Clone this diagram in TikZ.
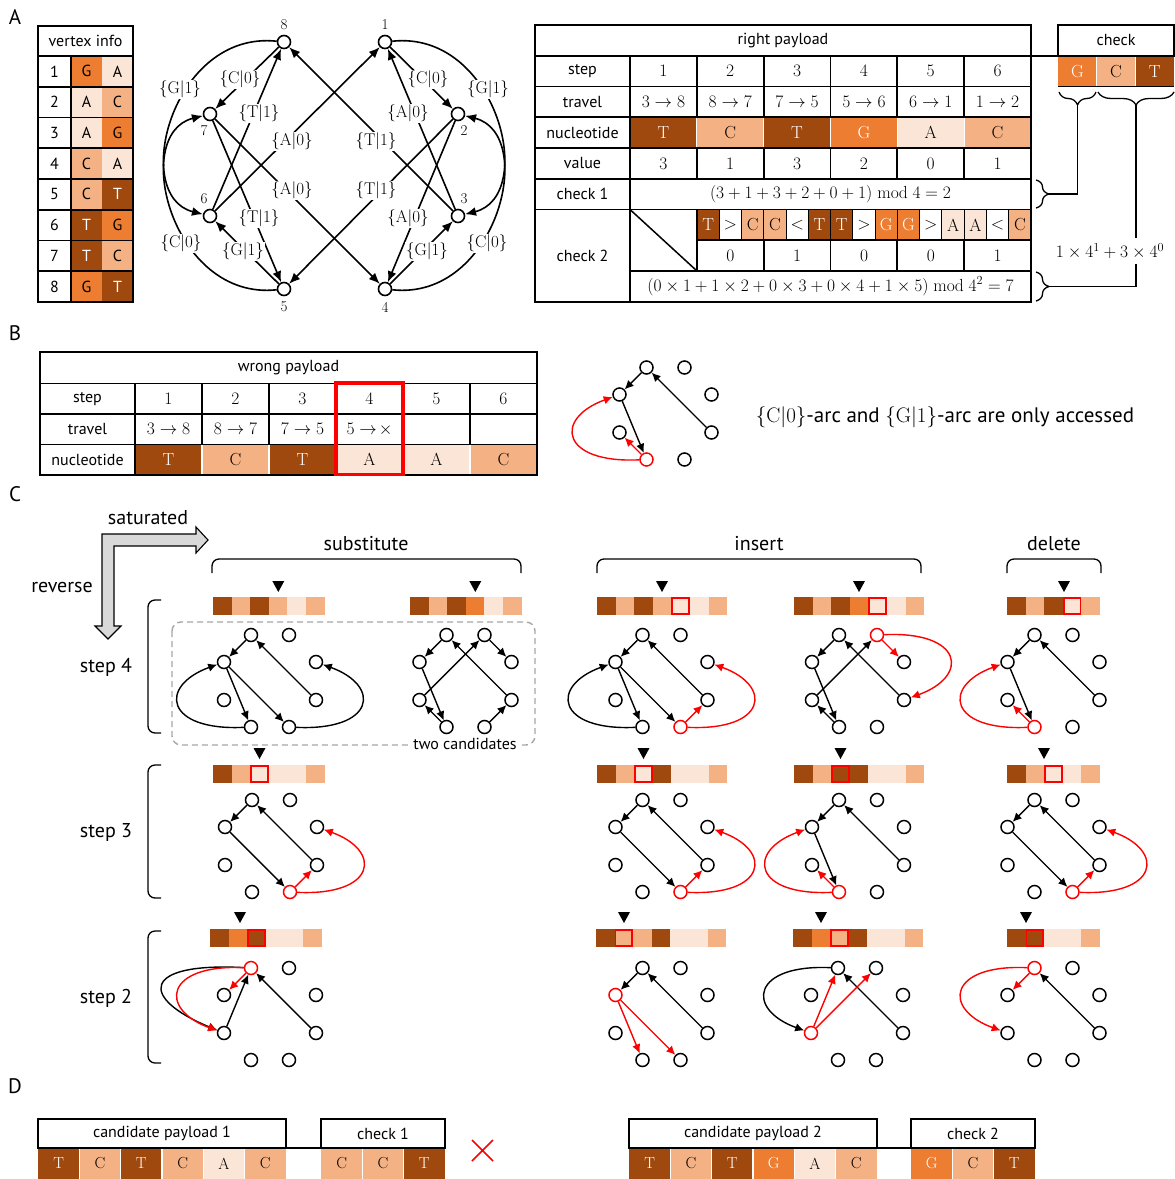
\RequirePackage{fix-cm}
\documentclass[tikz,border=0pt]{standalone}
\usepackage{fontspec}
\setsansfont{PT Sans}
\usetikzlibrary{arrows.meta,decorations.pathreplacing,calc}
\definecolor{cT}{HTML}{A0490F}
\definecolor{cG}{HTML}{ED7D31}
\definecolor{cC}{HTML}{F4B183}
\definecolor{cA}{HTML}{FBE5D6}
\definecolor{cW}{HTML}{FFFFFF}
\colorlet{tT}{white}\colorlet{tG}{black}\colorlet{tC}{black}\colorlet{tA}{black}
\colorlet{uT}{white}\colorlet{uG}{white}\colorlet{uC}{black}\colorlet{uA}{black}\colorlet{uW}{black}
\definecolor{dgrey}{HTML}{A6A6A6}
\definecolor{agrey}{HTML}{D9D9D9}
\newcommand\fsz[1]{\fontsize{#1}{#1}\selectfont}
\newcommand\arcl[2]{$\{\mathrm{#1}|#2\}$}
\tikzset{
  tbl/.style={line width=1.8pt},
  conn/.style={line width=1.3pt},
  lbl/.style={font=\sffamily\fsz{16}, inner sep=0pt},
  big/.style={font=\sffamily\fsz{20}, inner sep=0pt},
  val/.style={font=\rmfamily\fsz{17.5}, inner sep=0pt},
  bigvtx/.style={circle, draw, line width=1.6pt, minimum size=13pt, inner sep=0pt, fill=white},
  svtx/.style={circle, draw, line width=1.5pt, minimum size=13pt, inner sep=0pt, fill=white},
  arr/.style={line width=1.6pt, -{Latex[length=11pt,width=9pt]}},
  sarr/.style={line width=1.4pt, -{Latex[length=9pt,width=8.5pt]}},
  elab/.style={font=\rmfamily\fsz{17}, fill=white, inner sep=1pt},
  panel/.style={font=\sffamily\fsz{21}, inner sep=0pt},
  brc/.style={line width=1.3pt, decorate, decoration={brace, amplitude=13pt}},
}
% small graph: prefix, cx, cy, red vertex
\newcommand\sgraph[4]{%
  \foreach \id/\dx/\dy in {8/-19/-46,1/19/-46,7/-46/-19,2/46/-19,6/-46/19,3/46/19,5/-19/46,4/19/46}{%
    \ifnum\id=#4\relax
      \node[svtx,draw=red] (#1-\id) at ({#2+\dx},{#3+\dy}) {};%
    \else
      \node[svtx] (#1-\id) at ({#2+\dx},{#3+\dy}) {};%
    \fi
  }}
\newcommand\ed[4][]{\draw[sarr,#1] (#2-#3) -- (#2-#4);}
\newcommand\curveFS[2][]{\draw[sarr,#1] (#2-5) .. controls +(-86,4) and +(-66,24) .. (#2-7);}
\newcommand\curveFT[2][]{\draw[sarr,#1] (#2-4) .. controls +(86,4) and +(66,24) .. (#2-2);}
\newcommand\curveOT[2][]{\draw[sarr,#1] (#2-1) .. controls +(86,-4) and +(66,-24) .. (#2-3);}
\newcommand\curveES[2][]{\draw[sarr,#1] (#2-8) .. controls +(-86,-4) and +(-66,-24) .. (#2-6);}
% strip: x0, ytop, letters, red index
\newcommand\strip[4]{%
  \foreach \L [count=\k] in {#3}{%
    \fill[fill=c\L] ({#1+(\k-1)*18.6},#2) rectangle ({#1+\k*18.6},#2+18);}
  \ifnum#4>0\relax
    \draw[red, line width=1.7pt] ({#1+(#4-1)*18.6+0.9},#2+0.9) rectangle ({#1+#4*18.6-0.9},#2+17.1);
  \fi}
\newcommand\tmark[2]{\fill (#1-6,#2) -- (#1+6,#2) -- (#1,#2+11) -- cycle;}
\begin{document}
\begin{tikzpicture}[x=1pt,y=-1pt]
\useasboundingbox (0,0) rectangle (1175,1179);
% panel labels
\node[panel] (pA) at (15,17) {A};
\node[panel] (pB) at (15,333) {B};
\node[panel] (pC) at (15,494) {C};
\node[panel] (pD) at (15,1086) {D};

% ===== vertex info table
\node[lbl] (vi-h) at (85.5,41) {vertex info};
\foreach \r/\a/\b in {1/G/A,2/A/C,3/A/G,4/C/A,5/C/T,6/T/G,7/T/C,8/G/T}{
  \pgfmathsetmacro\yt{56+(\r-1)*30.75}
  \pgfmathsetmacro\yc{\yt+15.375}
  \fill[fill=c\a] (71,\yt) rectangle (102,\yt+30.75);
  \fill[fill=c\b] (102,\yt) rectangle (133,\yt+30.75);
  \node[lbl] (vi-n\r) at (54.5,\yc) {\r};
  \node[lbl,text=t\a] (vi-a\r) at (86.5,\yc) {\a};
  \node[lbl,text=t\b] (vi-b\r) at (117.5,\yc) {\b};
  \draw[tbl] (38,\yt) -- (133,\yt);
}
\draw[tbl] (38,26) rectangle (133,302);
\draw[tbl] (71,56) -- (71,302);

% ===== graph A
\node[bigvtx] (a8) at (284,42) {};
\node[bigvtx] (a1) at (385,42) {};
\node[bigvtx] (a7) at (210,114) {};
\node[bigvtx] (a2) at (458,114) {};
\node[bigvtx] (a6) at (210,216) {};
\node[bigvtx] (a3) at (458,216) {};
\node[bigvtx] (a5) at (284,289) {};
\node[bigvtx] (a4) at (385,289) {};
\node[val,font=\rmfamily\fsz{15}] (al8) at (284,25) {8};
\node[val,font=\rmfamily\fsz{15}] (al1) at (385,25) {1};
\node[val,font=\rmfamily\fsz{15}] (al7) at (204,131) {7};
\node[val,font=\rmfamily\fsz{15}] (al2) at (464,131) {2};
\node[val,font=\rmfamily\fsz{15}] (al6) at (204,199) {6};
\node[val,font=\rmfamily\fsz{15}] (al3) at (464,199) {3};
\node[val,font=\rmfamily\fsz{15}] (al5) at (284,307) {5};
\node[val,font=\rmfamily\fsz{15}] (al4) at (385,307) {4};
\draw[arr] (a8) -- (a7);
\draw[arr] (a6) -- (a8);
\draw[arr] (a3) -- (a8);
\draw[arr] (a7) -- (a4);
\draw[arr] (a7) -- (a5);
\draw[arr] (a6) -- (a1);
\draw[arr] (a5) -- (a6);
\draw[arr] (a2) -- (a5);
\draw[arr] (a1) -- (a2);
\draw[arr] (a3) -- (a1);
\draw[arr] (a2) -- (a4);
\draw[arr] (a4) -- (a3);
\draw[arr] (a8) .. controls +(-112,-12) and +(-80,-20) .. (a6);
\draw[arr] (a5) .. controls +(-112,12) and +(-80,20) .. (a7);
\draw[arr] (a1) .. controls +(112,-12) and +(80,-20) .. (a3);
\draw[arr] (a4) .. controls +(112,12) and +(80,20) .. (a2);
\node[elab] (e1) at (180,89) {\arcl{G}{1}};
\node[elab] (e2) at (240,79) {\arcl{C}{0}};
\node[elab] (e3) at (259,113) {\arcl{T}{1}};
\node[elab] (e4) at (292,141) {\arcl{A}{0}};
\node[elab] (e5) at (292,190) {\arcl{A}{0}};
\node[elab] (e6) at (259,218) {\arcl{T}{1}};
\node[elab] (e7) at (243,251) {\arcl{G}{1}};
\node[elab] (e8) at (181,243) {\arcl{C}{0}};
\node[elab] (e9) at (488,89) {\arcl{G}{1}};
\node[elab] (e10) at (428,79) {\arcl{C}{0}};
\node[elab] (e11) at (408,113) {\arcl{A}{0}};
\node[elab] (e12) at (376,141) {\arcl{T}{1}};
\node[elab] (e13) at (376,190) {\arcl{T}{1}};
\node[elab] (e14) at (408,218) {\arcl{A}{0}};
\node[elab] (e15) at (427,251) {\arcl{G}{1}};
\node[elab] (e16) at (487,243) {\arcl{C}{0}};

% ===== right payload table
\def\rx{630}\def\cw{66.833}\def\lw{22.267}
\node[lbl] (rp-h) at (783,40.4) {right payload};
\foreach \n/\y [count=\i] in {step/71.1, travel/101.9, nucleotide/132.6, value/163.4, check 1/194.1, check 2/255.6}
  \node[lbl] (rp-r\i) at (582.5,\y) {\n};
\foreach \k in {1,...,6}
  \node[val] (rp-s\k) at ({\rx+(\k-0.5)*\cw},71.1) {\k};
\foreach \a/\b [count=\k] in {3/8,8/7,7/5,5/6,6/1,1/2}
  \node[val] (rp-t\k) at ({\rx+(\k-0.5)*\cw},101.9) {$\a\rightarrow\b$};
\foreach \L [count=\k] in {T,C,T,G,A,C}{
  \fill[fill=c\L] ({\rx+(\k-1)*\cw},117.25) rectangle ({\rx+\k*\cw},148);
  \node[val,text=u\L] (rp-n\k) at ({\rx+(\k-0.5)*\cw},132.6) {\L};
}
\foreach \v [count=\k] in {3,1,3,2,0,1}
  \node[val] (rp-v\k) at ({\rx+(\k-0.5)*\cw},163.4) {\v};
\node[val] (rp-c1) at (830.5,194.1) {$(3+1+3+2+0+1)\bmod 4=2$};
\foreach \c/\tx [count=\k] in {T/T,W/{$>$},C/C,C/C,W/{$<$},T/T,T/T,W/{$>$},G/G,G/G,W/{$>$},A/A,A/A,W/{$<$},C/C}{
  \fill[fill=c\c] ({697+(\k-1)*\lw},209.5) rectangle ({697+\k*\lw},240.25);
  \node[val,text=u\c] (rp-l\k) at ({697+(\k-0.5)*\lw},224.9) {\tx};
}
\foreach \k in {1,...,14}
  \draw[line width=0.9pt] ({697+\k*\lw},209.5) -- ({697+\k*\lw},240.25);
\foreach \v [count=\k] in {0,1,0,0,1}
  \node[val] (rp-b\k) at ({697+(\k-0.5)*\cw},255.6) {\v};
\node[val] (rp-c2) at (830.5,286.4) {$(0\times1+1\times2+0\times3+0\times4+1\times5)\bmod 4^2=7$};
\foreach \k in {1,...,5}
  \draw[white, line width=1.2pt] ({\rx+\k*\cw},117.25) -- ({\rx+\k*\cw},148);
\draw[tbl] (535,25) rectangle (1031,301.75);
\foreach \y in {55.75,86.5,117.25,148,178.75,209.5} \draw[tbl] (535,\y) -- (1031,\y);
\draw[tbl] (697,240.25) -- (1031,240.25);
\draw[tbl] (630,271) -- (1031,271);
\draw[tbl] (630,55.75) -- (630,301.75);
\foreach \k in {1,...,5}{
  \draw[tbl] ({\rx+\k*\cw},55.75) -- ({\rx+\k*\cw},117.25);
  \draw[tbl] ({\rx+\k*\cw},148) -- ({\rx+\k*\cw},178.75);
  \draw[tbl] ({\rx+\k*\cw},240.25) -- ({\rx+\k*\cw},271);
}
\draw[tbl] (697,209.5) -- (697,240.25);
\draw[line width=1.5pt] (630,209.5) -- (697,271);

% ===== check box
\node[lbl] (ck-h) at (1116,40.4) {check};
\foreach \L [count=\k] in {G,C,T}{
  \fill[fill=c\L] ({1058+(\k-1)*38.7},55.75) rectangle ({1058+\k*38.7},86.5);
  \node[val,text=u\L] (ck-\k) at ({1058+(\k-0.5)*38.7},71.1) {\L};
}
\draw[white, line width=1.2pt] (1096.7,55.75) -- (1096.7,86.5) (1135.4,55.75) -- (1135.4,86.5);
\draw[tbl] (1058,25) rectangle (1174.2,55.75);
\draw[tbl] (1031,55.75) -- (1058,55.75);
\draw[tbl] (1058,86.5) -- (1174.2,86.5);
\draw[brc] (1096,92) -- (1059,92);
\draw[brc] (1174,92) -- (1098,92);
\draw[brc] (1036,180) -- (1036,208);
\draw[brc] (1036,272) -- (1036,301);
\coordinate (tb1) at (1077.5,105);
\coordinate (tr1) at (1049,194);
\coordinate (tb2) at (1136,105);
\coordinate (tr2) at (1049,286.5);
\node[val, inner sep=5pt] (fx) at (1110,251) {$1\times4^1+3\times4^0$};
\draw[conn] (tb1) -- (tb1 |- tr1) -- (tr1);
\draw[conn] (tb2) -- (tb2 |- fx.north);
\draw[conn] (tb2 |- fx.south) -- (tb2 |- tr2) -- (tr2);

% ===== B: wrong payload
\node[lbl] (wp-h) at (288.5,368) {wrong payload};
\foreach \n/\y [count=\i] in {step/399, travel/429.3, nucleotide/459.8}
  \node[lbl] (wp-r\i) at (87.5,\y) {\n};
\foreach \k in {1,...,6}
  \node[val] (wp-s\k) at ({135+(\k-0.5)*67},399) {\k};
\foreach \a/\b [count=\k] in {3/8,8/7,7/5}
  \node[val] (wp-t\k) at ({135+(\k-0.5)*67},429.3) {$\a\rightarrow\b$};
\node[val] (wp-t4) at ({135+3.5*67},429.3) {$5\rightarrow\!\times$};
\foreach \L [count=\k] in {T,C,T,A,A,C}{
  \fill[fill=c\L] ({135+(\k-1)*67},444.5) rectangle ({135+\k*67},475);
  \node[val,text=u\L] (wp-n\k) at ({135+(\k-0.5)*67},459.8) {\L};
}
\foreach \k in {1,...,5}
  \draw[white, line width=1.2pt] ({135+\k*67},444.5) -- ({135+\k*67},475);
\draw[tbl] (40,352) rectangle (537,475);
\foreach \y in {383.5,414,444.5} \draw[tbl] (40,\y) -- (537,\y);
\draw[tbl] (135,383.5) -- (135,475);
\foreach \k in {1,...,5} \draw[tbl] ({135+\k*67},383.5) -- ({135+\k*67},444.5);
\draw[red, line width=3.6pt] (336,383) rectangle (403,474.5);

\sgraph{gb}{665.5}{413.5}{5}
\ed{gb}{3}{8} \ed{gb}{8}{7} \ed{gb}{7}{5} \ed[red]{gb}{5}{6} \curveFS[red]{gb}
\node[font=\sffamily\fsz{21}, inner sep=0pt] (btxt) at (945,417) {{\rmfamily\arcl{C}{0}}-arc and {\rmfamily\arcl{G}{1}}-arc are only accessed};

% ===== C: headers
\draw[line width=1.1pt, fill=agrey] (102,534) -- (196,534) -- (196,527) -- (208,540) -- (196,553) -- (196,546) -- (114,546) -- (114,626) -- (121,626) -- (108,639) -- (95,626) -- (102,626) -- cycle;
\node[big] (sat) at (148,518) {saturated};
\node[big] (rev) at (62,587) {reverse};
\node[big] (sub) at (366,544) {substitute};
\node[big] (ins) at (759,544) {insert};
\node[big] (del) at (1054,544) {delete};
\draw[line width=1.3pt, rounded corners=7pt] (212,573) -- (212,559) -- (521,559) -- (521,573);
\draw[line width=1.3pt, rounded corners=7pt] (597,573) -- (597,559) -- (921,559) -- (921,573);
\draw[line width=1.3pt, rounded corners=7pt] (1007,573) -- (1007,559) -- (1101,559) -- (1101,573);
\node[big] (st4) at (106,667) {step 4};
\node[big] (st3) at (106,832) {step 3};
\node[big] (st2) at (106,998) {step 2};
\draw[line width=1.3pt, rounded corners=7pt] (161,600) -- (148,600) -- (148,733) -- (161,733);
\draw[line width=1.3pt, rounded corners=7pt] (161,765) -- (148,765) -- (148,898) -- (161,898);
\draw[line width=1.3pt, rounded corners=7pt] (161,931) -- (148,931) -- (148,1063) -- (161,1063);

% dashed candidates box
\draw[dgrey, line width=1.4pt, dash pattern=on 6pt off 4pt, rounded corners=9pt] (172,622) rectangle (535,745);
\node[lbl, fill=white, inner sep=2pt] (twoc) at (465,744) {two candidates};

% strips and markers
\strip{213}{597}{T,C,T,C,A,C}{0}  \tmark{278.3}{581}
\strip{410}{597}{T,C,T,G,A,C}{0}  \tmark{475.3}{581}
\strip{597}{597}{T,C,T,C,A,A,C}{5} \tmark{662}{581}
\strip{794}{597}{T,C,T,G,A,A,C}{5} \tmark{859}{581}
\strip{1007}{597}{T,C,T,A,C}{4}   \tmark{1064}{581}
\strip{213}{765}{T,C,A,A,A,C}{3}  \tmark{259.5}{748}
\strip{597}{765}{T,C,A,T,A,A,C}{3} \tmark{643.5}{748}
\strip{794}{765}{T,C,T,T,A,A,C}{3} \tmark{840.5}{748}
\strip{1007}{765}{T,C,A,A,C}{3}   \tmark{1044}{748}
\strip{210}{929}{T,G,T,A,A,C}{3}  \tmark{240}{912}
\strip{596}{929}{T,C,C,T,A,A,C}{2} \tmark{624}{912}
\strip{793}{929}{T,G,C,T,A,A,C}{3} \tmark{821}{912}
\strip{1007}{929}{T,T,A,A,C}{2}   \tmark{1026}{912}

% step 4 graphs
\sgraph{g4a}{270}{681}{0}
\ed{g4a}{8}{7} \ed{g4a}{3}{8} \ed{g4a}{7}{5} \ed{g4a}{7}{4} \curveFS{g4a} \curveFT{g4a}
\sgraph{g4b}{465.5}{681}{0}
\ed{g4b}{8}{7} \ed{g4b}{1}{2} \ed{g4b}{3}{8} \ed{g4b}{6}{1} \ed{g4b}{7}{5} \ed{g4b}{5}{6} \ed{g4b}{4}{3}
\sgraph{g4c}{661.5}{681}{4}
\ed{g4c}{8}{7} \ed{g4c}{3}{8} \ed{g4c}{7}{5} \ed{g4c}{7}{4} \curveFS{g4c} \ed[red]{g4c}{4}{3} \curveFT[red]{g4c}
\sgraph{g4d}{858}{681}{1}
\ed{g4d}{8}{7} \ed{g4d}{3}{8} \ed{g4d}{6}{1} \ed{g4d}{7}{5} \ed{g4d}{5}{6} \ed[red]{g4d}{1}{2} \curveOT[red]{g4d}
\sgraph{g4e}{1053.5}{681}{5}
\ed{g4e}{8}{7} \ed{g4e}{3}{8} \ed{g4e}{7}{5} \ed[red]{g4e}{5}{6} \curveFS[red]{g4e}
% step 3 graphs
\sgraph{g3a}{271}{846}{4}
\ed{g3a}{8}{7} \ed{g3a}{3}{8} \ed{g3a}{7}{4} \ed[red]{g3a}{4}{3} \curveFT[red]{g3a}
\sgraph{g3c}{661.5}{846}{4}
\ed{g3c}{8}{7} \ed{g3c}{3}{8} \ed{g3c}{7}{4} \ed[red]{g3c}{4}{3} \curveFT[red]{g3c}
\sgraph{g3d}{858}{846}{5}
\ed{g3d}{8}{7} \ed{g3d}{3}{8} \ed{g3d}{7}{5} \ed[red]{g3d}{5}{6} \curveFS[red]{g3d}
\sgraph{g3e}{1053.5}{846}{4}
\ed{g3e}{8}{7} \ed{g3e}{3}{8} \ed{g3e}{7}{4} \ed[red]{g3e}{4}{3} \curveFT[red]{g3e}
% step 2 graphs
\sgraph{g2a}{270}{1014}{8}
\ed{g2a}{6}{8} \ed{g2a}{3}{8}
\draw[sarr] (g2a-8) .. controls +(-110,-6) and +(-85,-35) .. (g2a-6);
\ed[red]{g2a}{8}{7} \curveES[red]{g2a}
\sgraph{g2c}{661.5}{1014}{7}
\ed{g2c}{8}{7} \ed{g2c}{3}{8} \ed[red]{g2c}{7}{5} \ed[red]{g2c}{7}{4}
\sgraph{g2d}{857}{1014}{6}
\curveES{g2d} \ed{g2d}{3}{8} \ed[red]{g2d}{6}{8} \ed[red]{g2d}{6}{1}
\sgraph{g2e}{1053.5}{1014}{8}
\ed{g2e}{3}{8} \ed[red]{g2e}{8}{7} \curveES[red]{g2e}

% ===== D
\node[lbl] (d1h) at (162,1133.5) {candidate payload 1};
\foreach \L [count=\k] in {T,C,T,C,A,C}{
  \fill[fill=c\L] ({38+(\k-1)*41.33},1148) rectangle ({38+\k*41.33},1179);
  \node[val,font=\rmfamily\fsz{16},text=u\L] (d1-\k) at ({38+(\k-0.5)*41.33},1163.5) {\L};
}
\foreach \k in {1,...,5} \draw[white, line width=1.5pt] ({38+\k*41.33},1148) -- ({38+\k*41.33},1179);
\draw[tbl] (38,1119) rectangle (286,1148);
\node[lbl] (c1h) at (383,1133.5) {check 1};
\foreach \L [count=\k] in {C,C,T}{
  \fill[fill=c\L] ({321+(\k-1)*41.33},1148) rectangle ({321+\k*41.33},1179);
  \node[val,font=\rmfamily\fsz{16},text=u\L] (c1-\k) at ({321+(\k-0.5)*41.33},1163.5) {\L};
}
\foreach \k in {1,2} \draw[white, line width=1.5pt] ({321+\k*41.33},1148) -- ({321+\k*41.33},1179);
\draw[tbl] (321,1119) rectangle (445,1148);
\draw[tbl] (286,1148) -- (321,1148);
\draw[red, line width=1.6pt] (472,1140) -- (493,1161) (472,1161) -- (493,1140);

\node[lbl] (d2h) at (753,1133.5) {candidate payload 2};
\foreach \L [count=\k] in {T,C,T,G,A,C}{
  \fill[fill=c\L] ({629+(\k-1)*41.33},1148) rectangle ({629+\k*41.33},1179);
  \node[val,font=\rmfamily\fsz{16},text=u\L] (d2-\k) at ({629+(\k-0.5)*41.33},1163.5) {\L};
}
\foreach \k in {1,...,5} \draw[white, line width=1.5pt] ({629+\k*41.33},1148) -- ({629+\k*41.33},1179);
\draw[tbl] (629,1119) rectangle (877,1148);
\node[lbl] (c2h) at (973,1133.5) {check 2};
\foreach \L [count=\k] in {G,C,T}{
  \fill[fill=c\L] ({911+(\k-1)*41.33},1148) rectangle ({911+\k*41.33},1179);
  \node[val,font=\rmfamily\fsz{16},text=u\L] (c2-\k) at ({911+(\k-0.5)*41.33},1163.5) {\L};
}
\foreach \k in {1,2} \draw[white, line width=1.5pt] ({911+\k*41.33},1148) -- ({911+\k*41.33},1179);
\draw[tbl] (911,1119) rectangle (1035,1148);
\draw[tbl] (877,1148) -- (911,1148);
\end{tikzpicture}
\end{document}
